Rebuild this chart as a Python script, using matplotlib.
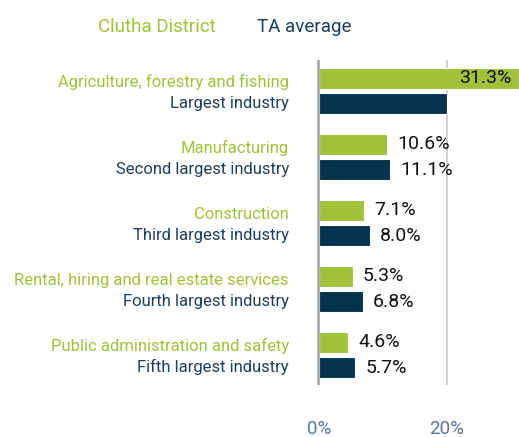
import matplotlib.pyplot as plt
import matplotlib.transforms as mtransforms

industries = [
    "Agriculture, forestry and fishing",
    "Manufacturing",
    "Construction",
    "Rental, hiring and real estate services",
    "Public administration and safety",
]
ranks = [
    "Largest industry",
    "Second largest industry",
    "Third largest industry",
    "Fourth largest industry",
    "Fifth largest industry",
]
clutha = [31.3, 10.6, 7.1, 5.3, 4.6]
ta_avg = [20.0, 11.1, 8.0, 6.8, 5.7]
ta_labels = ["", "11.1%", "8.0%", "6.8%", "5.7%"]
x_ticks = [0, 20]
x_tick_labels = ["0%", "20%"]

GREEN = "#a2c13a"
NAVY = "#03344f"
NAVY_TEXT = "#1d3f5e"
TICK = "#56789a"
GRID = "#c9ced3"

W, H = 519, 437
fig = plt.figure(figsize=(W / 100, H / 100), dpi=100)

px_per = 6.4
x0 = -0.4
x1 = 31.25
left_px = 319 + x0 * px_per
ax = fig.add_axes([left_px / W, 1 - 385 / H, (W - left_px) / W, 325 / H])

n = len(industries)
ys = list(range(n))
off = 0.19
bh = 0.32
ax.barh([y - off for y in ys], clutha, height=bh, color=GREEN,
        edgecolor="white", linewidth=0.8, zorder=2)
ax.barh([y + off for y in ys], ta_avg, height=bh, color=NAVY,
        edgecolor="white", linewidth=0.8, zorder=2)

ax.set_xlim(x0, x1)
ax.set_ylim(n - 1 + 0.455, -0.47)

ax.axvline(20, color=GRID, lw=1.3, zorder=1)
ax.axvline(-0.2, color="#9aa0a6", lw=1.8, zorder=3)

for s in ax.spines.values():
    s.set_visible(False)
ax.set_yticks([])
ax.set_xticks(x_ticks)
ax.set_xticklabels(x_tick_labels, fontsize=13.5, color=TICK, family="Roboto")
ax.tick_params(axis="x", length=0, pad=25)

val_font = dict(fontsize=14, color="#111111", family="Roboto", va="center")
for i, v in enumerate(clutha):
    if v > x1 - 6:
        ax.text(x1 - 8 / px_per, i - off, f"{v:.1f}%", ha="right", **val_font)
    else:
        ax.text(v + 10 / px_per, i - off, f"{v:.1f}%", ha="left", **val_font)
for i, v in enumerate(ta_avg):
    if ta_labels[i]:
        ax.text(v + 10 / px_per, i + off, ta_labels[i], ha="left", **val_font)

trans = mtransforms.blended_transform_factory(fig.transFigure, ax.transData)
lab_font = dict(fontsize=12, family="Roboto",
                ha="right", va="baseline", transform=trans)
for i in range(n):
    ax.text(289 / W, i - 4 / 66, industries[i], color=GREEN, **lab_font)
    ax.text(289 / W, i + 17 / 66, ranks[i], color=NAVY_TEXT, **lab_font)

fig.text(98 / W, 1 - 31.5 / H, "Clutha District", color=GREEN, fontsize=13.5,
         family="Roboto", va="baseline", ha="left")
fig.text(257 / W, 1 - 31.5 / H, "TA average", color=NAVY_TEXT, fontsize=13.5,
         family="Roboto", va="baseline", ha="left")

fig.savefig("out.png", dpi=100)
